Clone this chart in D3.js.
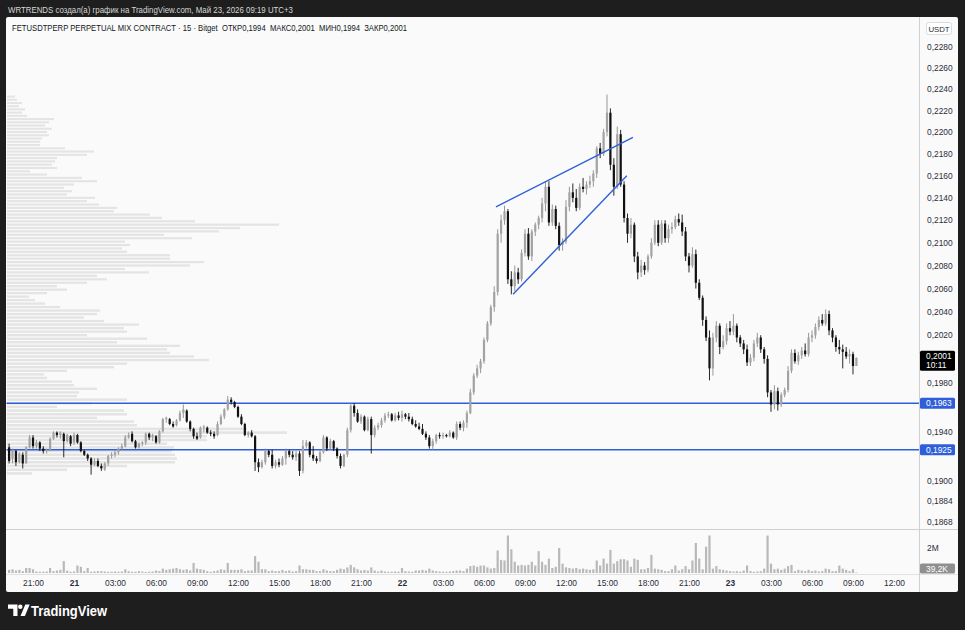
<!DOCTYPE html>
<html>
<head>
<meta charset="utf-8">
<script src="https://cdn.jsdelivr.net/npm/d3@7"></script>
<style>
html, body { margin: 0; padding: 0; background: #1e1e1e; }
svg { display: block; font-family: "Liberation Sans", "DejaVu Sans", sans-serif; }
</style>
</head>
<body>
<svg id="chart" width="965" height="630"></svg>
<script>
// 15m candles [open, high, low, close], one array per day (UTC+3 clock)
const may20 = [
  [.1927,.1930,.1914,.1916],[.1918,.1926,.1914,.1924],[.1924,.1925,.1912,.1915],[.1915,.1923,.1914,.1922],
  [.1921,.1923,.1910,.1914],[.1914,.1928,.1914,.1927],[.1927,.1937,.1926,.1935],[.1935,.1937,.1926,.1928],
  [.1928,.1933,.1926,.1931],[.1931,.1932,.1924,.1926],[.1926,.1928,.1922,.1924],[.1924,.1926,.1922,.1925],
  [.1925,.1935,.1924,.1934],[.1934,.1940,.1933,.1939],[.1939,.1940,.1935,.1937],[.1937,.1940,.1934,.1939],
  [.1938,.1939,.1919,.1932],[.1932,.1938,.1931,.1937],[.1936,.1937,.1928,.1930]
];
const may21 = [
  [.1931,.1939,.1929,.1937],[.1937,.1938,.1930,.1931],[.1931,.1932,.1923,.1924],[.1924,.1925,.1920,.1921],
  [.1921,.1922,.1916,.1918],[.1918,.1919,.1905,.1913],[.1913,.1918,.1912,.1916],[.1916,.1918,.1911,.1912],
  [.1912,.1914,.1908,.1910],[.1909,.1915,.1908,.1914],[.1914,.1921,.1912,.1920],[.1920,.1923,.1918,.1921],
  [.1921,.1924,.1919,.1923],[.1923,.1927,.1921,.1926],[.1926,.1930,.1925,.1928],[.1928,.1937,.1927,.1935],
  [.1935,.1939,.1934,.1937],[.1938,.1940,.1931,.1932],[.1932,.1933,.1926,.1927],[.1927,.1931,.1926,.1930],
  [.1930,.1932,.1928,.1931],[.1931,.1939,.1929,.1938],[.1938,.1939,.1933,.1935],[.1935,.1938,.1932,.1937],
  [.1936,.1937,.1930,.1931],[.1931,.1941,.1930,.1940],[.1940,.1951,.1939,.1950],[.1950,.1952,.1947,.1951],
  [.1950,.1951,.1945,.1946],[.1946,.1948,.1943,.1944],[.1945,.1950,.1944,.1949],[.1949,.1957,.1948,.1955],
  [.1955,.1962,.1951,.1958],[.1957,.1958,.1947,.1948],[.1948,.1949,.1940,.1942],[.1942,.1943,.1934,.1936],
  [.1936,.1939,.1933,.1934],[.1935,.1944,.1934,.1943],[.1943,.1945,.1939,.1944],[.1943,.1944,.1938,.1939],
  [.1939,.1941,.1936,.1938],[.1938,.1940,.1934,.1936],[.1937,.1948,.1936,.1946],[.1946,.1954,.1945,.1952],
  [.1952,.1959,.1950,.1958],[.1958,.1969,.1957,.1966],[.1966,.1968,.1962,.1964],[.1964,.1965,.1959,.1960],
  [.1960,.1961,.1951,.1952],[.1952,.1954,.1945,.1946],[.1946,.1947,.1936,.1937],[.1937,.1940,.1935,.1939],
  [.1939,.1941,.1935,.1936],[.1936,.1937,.1908,.1915],[.1915,.1918,.1907,.1911],[.1911,.1917,.1910,.1915],
  [.1915,.1926,.1913,.1924],[.1924,.1925,.1919,.1921],[.1921,.1925,.1910,.1912],[.1912,.1917,.1910,.1915],
  [.1915,.1918,.1911,.1913],[.1913,.1920,.1912,.1918],[.1918,.1926,.1913,.1924],[.1924,.1925,.1919,.1921],
  [.1921,.1924,.1917,.1919],[.1919,.1924,.1916,.1922],[.1922,.1924,.1904,.1908],[.1908,.1933,.1906,.1928],
  [.1928,.1933,.1926,.1931],[.1931,.1932,.1919,.1921],[.1921,.1928,.1916,.1918],[.1918,.1920,.1914,.1916],
  [.1916,.1925,.1915,.1923],[.1923,.1937,.1922,.1935],[.1935,.1936,.1924,.1926],[.1926,.1934,.1925,.1932],
  [.1932,.1933,.1924,.1926],[.1926,.1927,.1918,.1920],[.1920,.1922,.1910,.1912],[.1912,.1922,.1911,.1921],
  [.1921,.1943,.1919,.1941],[.1941,.1963,.1939,.1961],[.1961,.1963,.1952,.1955],[.1955,.1958,.1947,.1948],
  [.1948,.1954,.1946,.1952],[.1952,.1953,.1940,.1941],[.1941,.1952,.1940,.1950],[.1950,.1952,.1922,.1937],
  [.1937,.1945,.1935,.1943],[.1943,.1947,.1941,.1945],[.1945,.1951,.1943,.1949],[.1949,.1955,.1947,.1953],
  [.1953,.1956,.1951,.1954],[.1954,.1955,.1948,.1949],[.1949,.1955,.1948,.1953],[.1953,.1956,.1949,.1951]
];
const may22 = [
  [.1951,.1957,.1948,.1954],[.1954,.1955,.1950,.1952],[.1952,.1955,.1948,.1950],[.1950,.1952,.1945,.1946],
  [.1946,.1949,.1943,.1944],[.1944,.1947,.1941,.1942],[.1942,.1946,.1937,.1938],[.1938,.1940,.1933,.1935],
  [.1935,.1937,.1926,.1928],[.1928,.1934,.1925,.1932],[.1932,.1938,.1930,.1937],[.1937,.1939,.1934,.1936],
  [.1936,.1939,.1934,.1937],[.1937,.1938,.1935,.1936],[.1936,.1941,.1935,.1939],[.1939,.1940,.1934,.1935],
  [.1935,.1948,.1933,.1946],[.1946,.1948,.1941,.1943],[.1943,.1949,.1940,.1947],[.1947,.1957,.1943,.1955],
  [.1955,.1975,.1954,.1972],[.1972,.1988,.1970,.1986],[.1986,.1995,.1984,.1992],[.1992,.2000,.1988,.1998],
  [.1998,.2018,.1996,.2016],[.2016,.2032,.2014,.2030],[.2030,.2046,.2028,.2044],[.2044,.2062,.2040,.2057],
  [.2057,.2112,.2054,.2108],[.2108,.2125,.2100,.2120],[.2120,.2133,.2116,.2128],[.2128,.2130,.2064,.2068],
  [.2068,.2075,.2055,.2062],[.2062,.2080,.2058,.2074],[.2074,.2078,.2064,.2068],[.2068,.2094,.2066,.2091],
  [.2091,.2112,.2088,.2108],[.2108,.2113,.2085,.2088],[.2088,.2112,.2084,.2110],[.2110,.2118,.2106,.2116],
  [.2116,.2124,.2112,.2122],[.2122,.2140,.2118,.2135],[.2135,.2155,.2128,.2150],[.2150,.2155,.2115,.2118],
  [.2118,.2134,.2115,.2130],[.2130,.2133,.2112,.2115],[.2115,.2118,.2093,.2098],[.2098,.2104,.2093,.2101],
  [.2101,.2138,.2099,.2132],[.2132,.2150,.2128,.2145],[.2145,.2153,.2136,.2140],[.2140,.2148,.2128,.2131],
  [.2131,.2153,.2129,.2150],[.2150,.2158,.2145,.2148],[.2148,.2155,.2143,.2152],[.2152,.2160,.2149,.2155],
  [.2155,.2165,.2150,.2162],[.2162,.2187,.2158,.2185],[.2185,.2190,.2176,.2180],[.2180,.2203,.2178,.2200],
  [.2200,.2235,.2196,.2218],[.2218,.2222,.2165,.2170],[.2170,.2176,.2142,.2150],[.2150,.2205,.2148,.2198],
  [.2198,.2202,.2150,.2152],[.2152,.2155,.2118,.2122],[.2122,.2126,.2100,.2108],[.2108,.2122,.2104,.2116],
  [.2116,.2118,.2083,.2088],[.2088,.2092,.2068,.2074],[.2074,.2085,.2070,.2080],[.2080,.2083,.2072,.2076],
  [.2076,.2090,.2074,.2088],[.2088,.2104,.2086,.2100],[.2100,.2120,.2098,.2116],[.2116,.2120,.2097,.2100],
  [.2100,.2120,.2098,.2117],[.2117,.2120,.2100,.2104],[.2104,.2116,.2100,.2112],[.2112,.2118,.2108,.2114],
  [.2114,.2124,.2112,.2121],[.2121,.2126,.2115,.2118],[.2118,.2125,.2106,.2110],[.2110,.2114,.2084,.2088],
  [.2088,.2091,.2074,.2080],[.2080,.2096,.2078,.2090],[.2090,.2094,.2060,.2065],[.2065,.2068,.2050,.2052],
  [.2052,.2054,.2028,.2033],[.2033,.2036,.2015,.2018],[.2018,.2024,.1982,.1992],[.1992,.2022,.1986,.2018],
  [.2018,.2032,.2014,.2028],[.2028,.2030,.2004,.2010],[.2010,.2020,.2008,.2015],[.2015,.2030,.2012,.2026]
];
const may23 = [
  [.2026,.2032,.2020,.2023],[.2023,.2038,.2020,.2028],[.2028,.2030,.2014,.2018],[.2018,.2020,.2010,.2013],
  [.2013,.2016,.2004,.2008],[.2008,.2012,.1994,.1997],[.1997,.2004,.1994,.2001],[.2001,.2016,.1998,.2013],
  [.2013,.2022,.2010,.2018],[.2018,.2020,.2005,.2008],[.2008,.2010,.1996,.2000],[.2000,.2003,.1968,.1972],
  [.1972,.1974,.1956,.1962],[.1962,.1978,.1958,.1973],[.1973,.1976,.1957,.1962],[.1962,.1972,.1960,.1970],
  [.1970,.1976,.1968,.1974],[.1974,.1994,.1972,.1990],[.1990,.2008,.1988,.2005],[.2005,.2008,.1996,.1998],
  [.1998,.2006,.1995,.2003],[.2003,.2010,.2000,.2007],[.2007,.2013,.2002,.2004],[.2004,.2022,.2002,.2018],
  [.2018,.2024,.2014,.2020],[.2020,.2030,.2017,.2027],[.2027,.2036,.2024,.2033],[.2033,.2038,.2028,.2030],
  [.2030,.2042,.2028,.2038],[.2038,.2041,.2020,.2024],[.2024,.2026,.2014,.2018],[.2018,.2020,.2006,.2010],
  [.2010,.2016,.2004,.2008],[.2008,.2012,.1992,.2006],[.2006,.2010,.2000,.2002],[.2002,.2008,.1996,.2004],
  [.2004,.2006,.1987,.1994],[.1994,.2001,.1994,.2001]
];

// volume per candle, thousands of FET
const vol20 = [250,300,200,250,150,400,400, 300,120,100,100,120,400,150,200,250,950,180,100];
const vol21 = [
  120,600,500,150,400,100,120,150,150,120,100,100,
  120,100,120,300,150,100,100,150,120,80,100,120,
  200,150,350,250,300,350,400,300,250,300,200,800,
  350,300,250,150,100,150,200,300,250,800,250,250,
  250,300,150,200,200,1350,900,300,300,150,200,150,
  150,250,150,200,120,150,600,300,300,250,250,150,
  150,300,200,150,150,250,350,300,450,650,450,300,
  200,250,200,450,200,120,200,120,100,100,120,100
];
const vol22 = [
  400,150,120,100,200,200,250,200,350,200,150,120,
  100,100,120,150,200,200,150,350,550,600,500,600,
  600,450,350,400,1800,1050,1000,3000,1900,900,600,650,
  600,650,900,600,1750,900,650,1150,400,500,2000,750,
  450,400,350,400,300,350,300,250,300,1000,600,1150,
  750,1850,750,950,1100,1100,1000,500,1150,1050,300,300,
  400,1450,350,300,250,150,150,300,600,200,300,550,
  300,1000,2400,1150,300,2100,3000,350,550,300,250,200
];
const vol23 = [
  150,120,150,100,200,600,150,100,120,150,350,3000,
  750,300,350,250,350,550,650,150,250,200,150,250,
  150,200,120,150,350,300,150,150,600,350,250,150,300,39.2
];

// visible-range volume profile, rows of 0.0003 from 0.1904 upward
const profileStart = 0.1904;
const profileStep = 0.0003;
const profileVols = [
  25,60,120,168,170, 168,165,167,160,200, 200,280,240,130,127, 90,120,117,50,85,
  120,70,72,90,67, 65,40,37,60,107, 120,202,187,163,160, 173,110,140,80,120,
  117,132,97,77,90, 93,53,38,28,22, 40,60,50,80,100, 90,142,118,183,197,
  163,163,120,115,123, 118,185,157,212,233, 272,188,155,143,107, 110,92,80,88,60,
  65,57,67,90,75, 40,23,50,45,48, 50,80,87,58,33, 33,35,42,40,45,
  38,42,47,20,15, 18,12,15,10,8
];

// 0,2000 / 0,1960 / 0,1920 sit under the price tags and are left out
const priceTicks = [.2280,.2260,.2240,.2220,.2200,.2180,.2160,.2140,.2120,.2100,.2080,.2060,.2040,.2020,.1980,.1940,.1900,.1884,.1868];
const levels = [.1963, .1925];
const wedgeUpper = [["2026-05-22T06:52:30Z", .2132], ["2026-05-22T16:54:00Z", .2195]];
const wedgeLower = [["2026-05-22T08:07:30Z", .2055], ["2026-05-22T16:27:00Z", .2160]];
const lastPrice = .2001;
const lastVolumeLabel = "39,2K";

const firstBar = Date.UTC(2026, 4, 20, 19, 15);
const barMs = 15 * 60 * 1000;

const candles = [].concat(may20, may21, may22, may23).map((d, i) => ({
    t: new Date(firstBar + i * barMs), o: d[0], h: d[1], l: d[2], c: d[3]
}));
const vols = [].concat(vol20, vol21, vol22, vol23);
candles.forEach((d, i) => d.v = vols[i]);

let svg = d3.select("#chart");
let paneL = 6.5, paneR = 919, paneT = 17, priceB = 529, volB = 573, paneB = 592;

let x = d3.scaleUtc()
    .domain([new Date(Date.UTC(2026, 4, 20, 19, 3, 36)), new Date(Date.UTC(2026, 4, 23, 13, 49, 48))])
    .range([paneL, paneR]);
let y = d3.scaleLog()
    .domain([0.1862, 0.2309])
    .range([priceB, paneT]);
let yv = d3.scaleLinear()
    .domain([0, 3520])
    .range([volB, priceB]);
let prof = d3.scaleLinear()
    .domain([0, d3.max(profileVols)])
    .range([0, 280]);

let comma = v => d3.format(".4f")(v).replace(".", ",");
let bodyW = 2.2;

// header
svg.append("text").attr("x", 8).attr("y", 13)
    .attr("font-size", 9).attr("fill", "#d6d6d6")
    .attr("textLength", 285).attr("lengthAdjust", "spacingAndGlyphs")
    .text("WRTRENDS создал(а) график на TradingView.com, Май 23, 2026 09:19 UTC+3");

// panel
svg.append("rect").attr("x", 6).attr("y", paneT).attr("width", 952).attr("height", paneB - paneT)
    .attr("rx", 2).attr("fill", "#fafafa");

svg.append("defs").append("clipPath").attr("id", "pane")
    .append("rect").attr("x", paneL).attr("y", paneT).attr("width", paneR - paneL).attr("height", priceB - paneT);

// volume profile
let gp = svg.append("g").attr("clip-path", "url(#pane)");
gp.selectAll("rect").data(profileVols).join("rect")
    .attr("x", paneL + 0.5)
    .attr("y", (d, k) => y(profileStart + (k + 1) * profileStep))
    .attr("width", d => prof(d))
    .attr("height", (d, k) => y(profileStart + k * profileStep) - y(profileStart + (k + 1) * profileStep) - 1.2)
    .attr("fill", "#e4e4e4");

// horizontal levels
svg.append("g").selectAll("line").data(levels).join("line")
    .attr("x1", paneL).attr("x2", paneR)
    .attr("y1", d => y(d)).attr("y2", d => y(d))
    .attr("stroke", "#2f5fd8").attr("stroke-width", 1.4);

// candles
let gc = svg.append("g").attr("clip-path", "url(#pane)");
let up = d => d.c >= d.o;
gc.selectAll("line").data(candles).join("line")
    .attr("x1", d => x(d.t)).attr("x2", d => x(d.t))
    .attr("y1", d => y(d.h)).attr("y2", d => y(d.l))
    .attr("stroke", d => up(d) ? "#8c8c8c" : "#111")
    .attr("stroke-width", 0.9);
gc.selectAll("rect").data(candles).join("rect")
    .attr("x", d => x(d.t) - bodyW / 2)
    .attr("y", d => y(Math.max(d.o, d.c)))
    .attr("width", bodyW)
    .attr("height", d => Math.max(0.8, Math.abs(y(d.o) - y(d.c))))
    .attr("fill", d => up(d) ? "#a3a3a3" : "#111");

// wedge
let wline = d3.line().x(d => x(new Date(d[0]))).y(d => y(d[1]));
[wedgeUpper, wedgeLower].forEach(w => {
    svg.append("path").datum(w).attr("d", wline)
        .attr("fill", "none").attr("stroke", "#2f5fd8").attr("stroke-width", 1.4);
});

// volume
svg.append("g").selectAll("rect").data(candles).join("rect")
    .attr("x", d => x(d.t) - bodyW / 2)
    .attr("y", d => yv(d.v))
    .attr("width", bodyW)
    .attr("height", d => volB - yv(d.v))
    .attr("fill", "#b9b9b9");

// separators
svg.append("line").attr("x1", 6).attr("x2", 958).attr("y1", priceB + 0.5).attr("y2", priceB + 0.5)
    .attr("stroke", "#cfcfcf");
svg.append("line").attr("x1", 6).attr("x2", 958).attr("y1", volB + 1.5).attr("y2", volB + 1.5)
    .attr("stroke", "#e2e2e2");
svg.append("line").attr("x1", paneR + 0.5).attr("x2", paneR + 0.5).attr("y1", paneT).attr("y2", paneB)
    .attr("stroke", "#cfcfcf");

// price axis
let ya = svg.append("g").attr("transform", `translate(${paneR},0)`)
    .call(d3.axisRight(y).tickValues(priceTicks).tickFormat(comma).tickSize(0).tickPadding(8));
ya.select(".domain").remove();
ya.selectAll("text").attr("font-size", 8.4).attr("fill", "#2a2e39").attr("font-family", null);

// volume axis
let va = svg.append("g").attr("transform", `translate(${paneR},0)`)
    .call(d3.axisRight(yv).tickValues([2000]).tickFormat(d => d / 1000 + "M").tickSize(0).tickPadding(8));
va.select(".domain").remove();
va.selectAll("text").attr("font-size", 8.4).attr("fill", "#2a2e39").attr("font-family", null);

// time axis
let tfmt = d => d.getUTCHours() === 0 ? d3.utcFormat("%-d")(d) : d3.utcFormat("%H:%M")(d);
let xa = svg.append("g").attr("transform", `translate(0,${volB})`)
    .call(d3.axisBottom(x).ticks(d3.utcHour.every(3)).tickFormat(tfmt).tickSize(0).tickPadding(7));
xa.select(".domain").remove();
xa.selectAll("text").attr("font-size", 8.4).attr("fill", "#2a2e39").attr("font-family", null)
    .attr("font-weight", d => d.getUTCHours() === 0 ? "bold" : null);

// axis labels: levels, last price, last volume
let tag = (py, h, fill, lines) => {
    let g = svg.append("g");
    g.append("rect").attr("x", paneR + 1).attr("y", py - h / 2).attr("width", 35).attr("height", h)
        .attr("rx", 1.5).attr("fill", fill);
    lines.forEach((s, k) => {
        g.append("text").attr("x", paneR + 7).attr("y", py - (lines.length - 1) * 4.5 + k * 9 + 3)
            .attr("font-size", 8.4).attr("fill", "#fff").text(s);
    });
};
levels.forEach(l => tag(y(l), 11, "#2f5fd8", [comma(l)]));
tag(y(lastPrice) + 3, 20, "#000", [comma(lastPrice), "10:11"]);
tag(yv(39.2) - 4, 10, "#8f8f8f", [lastVolumeLabel]);

// currency box
svg.append("rect").attr("x", paneR + 7.5).attr("y", 22.5).attr("width", 25).attr("height", 12)
    .attr("rx", 2).attr("fill", "#fff").attr("stroke", "#dcdcdc");
svg.append("text").attr("x", paneR + 20).attr("y", 31.5).attr("text-anchor", "middle")
    .attr("font-size", 7.8).attr("fill", "#2a2e39").text("USDT");

// title
svg.append("text").attr("x", 12).attr("y", 31)
    .attr("font-size", 8.6).attr("fill", "#131722")
    .attr("textLength", 395).attr("lengthAdjust", "spacingAndGlyphs")
    .style("white-space", "pre")
    .text("FETUSDTPERP PERPETUAL MIX CONTRACT · 15 · Bitget  ОТКР0,1994  МАКС0,2001  МИН0,1994  ЗАКР0,2001");

// logo
let logo = svg.append("g").attr("fill", "#fff");
logo.append("path").attr("d", "M8,604.5h9.5v11.5h-4.2v-7.3h-5.3z");
logo.append("circle").attr("cx", 20.3).attr("cy", 606.8).attr("r", 2.2);
logo.append("path").attr("d", "M20.5,616l4.8,-11.5h4.4l-4.8,11.5z");
logo.append("text").attr("x", 31).attr("y", 616).attr("font-size", 14).attr("font-weight", "bold")
    .attr("textLength", 76).attr("lengthAdjust", "spacingAndGlyphs")
    .text("TradingView");
</script>
</body>
</html>
